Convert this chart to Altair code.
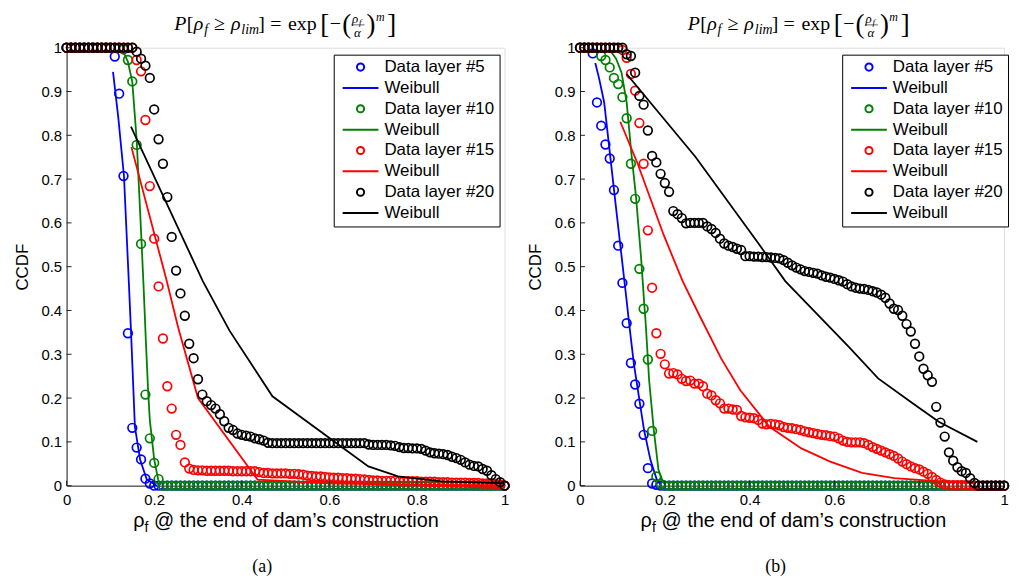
import altair as alt
import pandas as pd

# ---------------- data ----------------
X_GRID = [round(i * 0.01, 2) for i in range(101)]

# panel (a)
A_D5 = [1, 1, 1, 1, 1, 1, 1, 1, 1, 1,
        1, 0.98, 0.895, 0.707, 0.348, 0.132, 0.087, 0.060, 0.016, 0.005,
        0, 0, 0, 0, 0, 0, 0, 0, 0, 0,
        0, 0, 0, 0, 0, 0, 0, 0, 0, 0,
        0, 0, 0, 0, 0, 0, 0, 0, 0, 0,
        0, 0, 0, 0, 0, 0, 0, 0, 0, 0,
        0, 0, 0, 0, 0, 0, 0, 0, 0, 0,
        0, 0, 0, 0, 0, 0, 0, 0, 0, 0,
        0, 0, 0, 0, 0, 0, 0, 0, 0, 0,
        0, 0, 0, 0, 0, 0, 0, 0, 0, 0,
        0]
A_D10 = [1, 1, 1, 1, 1, 1, 1, 1, 1, 1,
         1, 1, 1, 0.996, 0.972, 0.923, 0.778, 0.552, 0.208, 0.108,
         0.052, 0.015, 0, 0, 0, 0, 0, 0, 0, 0,
         0, 0, 0, 0, 0, 0, 0, 0, 0, 0,
         0, 0, 0, 0, 0, 0, 0, 0, 0, 0,
         0, 0, 0, 0, 0, 0, 0, 0, 0, 0,
         0, 0, 0, 0, 0, 0, 0, 0, 0, 0,
         0, 0, 0, 0, 0, 0, 0, 0, 0, 0,
         0, 0, 0, 0, 0, 0, 0, 0, 0, 0,
         0, 0, 0, 0, 0, 0, 0, 0, 0, 0,
         0]
A_D15 = [1, 1, 1, 1, 1, 1, 1, 1, 1, 1,
         1, 1, 1, 1, 1, 1, 0.972, 0.946, 0.835, 0.684,
         0.564, 0.455, 0.336, 0.227, 0.176, 0.116, 0.093, 0.053, 0.039, 0.036,
         0.035, 0.035, 0.034, 0.034, 0.034, 0.034, 0.034, 0.034, 0.033, 0.033,
         0.033, 0.033, 0.033, 0.033, 0.031, 0.029, 0.029, 0.028, 0.028, 0.028,
         0.028, 0.027, 0.027, 0.026, 0.025, 0.023, 0.022, 0.021, 0.021, 0.020,
         0.019, 0.018, 0.018, 0.017, 0.017, 0.016, 0.016, 0.015, 0.014, 0.013,
         0.012, 0.012, 0.011, 0.011, 0.011, 0.011, 0.010, 0.010, 0.010, 0.010,
         0.010, 0.009, 0.009, 0.009, 0.009, 0.008, 0.008, 0.008, 0.007, 0.007,
         0.007, 0.007, 0.006, 0.006, 0.006, 0.005, 0.005, 0.005, 0.004, 0.003,
         0]
A_D20 = [1, 1, 1, 1, 1, 1, 1, 1, 1, 1,
         1, 1, 1, 1, 1, 1, 0.991, 0.975, 0.959, 0.931,
         0.859, 0.791, 0.735, 0.659, 0.568, 0.491, 0.439, 0.388, 0.324, 0.291,
         0.243, 0.208, 0.193, 0.184, 0.176, 0.163, 0.147, 0.132, 0.127, 0.119,
         0.116, 0.114, 0.112, 0.108, 0.106, 0.103, 0.098, 0.097, 0.097, 0.097,
         0.097, 0.097, 0.097, 0.097, 0.097, 0.097, 0.097, 0.097, 0.097, 0.097,
         0.097, 0.097, 0.097, 0.097, 0.097, 0.097, 0.097, 0.097, 0.097, 0.094,
         0.093, 0.093, 0.093, 0.093, 0.092, 0.091, 0.088, 0.086, 0.086, 0.085,
         0.085, 0.084, 0.080, 0.076, 0.074, 0.073, 0.072, 0.070, 0.066, 0.063,
         0.059, 0.053, 0.048, 0.045, 0.044, 0.038, 0.034, 0.024, 0.015, 0.008,
         0]

A_W5_X = [0.106, 0.118, 0.131, 0.142, 0.147, 0.156, 0.168, 0.183, 0.206]
A_W5_Y = [0.945, 0.841, 0.707, 0.467, 0.354, 0.134, 0.059, 0.014, 0.0]
A_W10_X = [0.130, 0.140, 0.150, 0.160, 0.171, 0.176, 0.181, 0.186, 0.190, 0.200, 0.209, 0.215]
A_W10_Y = [0.990, 0.968, 0.922, 0.790, 0.560, 0.450, 0.330, 0.220, 0.150, 0.060, 0.014, 0.002]
A_W15_X = [0.148, 0.228, 0.255, 0.300, 0.436, 0.600, 0.800, 1.000]
A_W15_Y = [0.773, 0.470, 0.360, 0.200, 0.014, 0.005, 0.002, 0.001]
A_W20_X = [0.147, 0.311, 0.372, 0.470, 0.689, 0.757, 0.856, 1.000]
A_W20_Y = [0.820, 0.467, 0.354, 0.204, 0.044, 0.021, 0.010, 0.005]

# panel (b)
B_D5 = [1, 1, 1, 0.987, 0.875, 0.822, 0.779, 0.747, 0.675, 0.548,
        0.463, 0.371, 0.280, 0.231, 0.187, 0.116, 0.040, 0.005, 0.002, 0,
        0, 0, 0, 0, 0, 0, 0, 0, 0, 0,
        0, 0, 0, 0, 0, 0, 0, 0, 0, 0,
        0, 0, 0, 0, 0, 0, 0, 0, 0, 0,
        0, 0, 0, 0, 0, 0, 0, 0, 0, 0,
        0, 0, 0, 0, 0, 0, 0, 0, 0, 0,
        0, 0, 0, 0, 0, 0, 0, 0, 0, 0,
        0, 0, 0, 0, 0, 0, 0, 0, 0, 0,
        0, 0, 0, 0, 0, 0, 0, 0, 0, 0,
        0]
B_D10 = [1, 1, 1, 1, 1, 0.981, 0.972, 0.955, 0.931, 0.917,
         0.887, 0.839, 0.735, 0.655, 0.495, 0.404, 0.288, 0.125, 0.021, 0.004,
         0, 0, 0, 0, 0, 0, 0, 0, 0, 0,
         0, 0, 0, 0, 0, 0, 0, 0, 0, 0,
         0, 0, 0, 0, 0, 0, 0, 0, 0, 0,
         0, 0, 0, 0, 0, 0, 0, 0, 0, 0,
         0, 0, 0, 0, 0, 0, 0, 0, 0, 0,
         0, 0, 0, 0, 0, 0, 0, 0, 0, 0,
         0, 0, 0, 0, 0, 0, 0, 0, 0, 0,
         0, 0, 0, 0, 0, 0, 0, 0, 0, 0,
         0]
B_D15 = [1, 1, 1, 1, 1, 1, 1, 1, 1, 1,
         0.995, 0.977, 0.940, 0.902, 0.828, 0.735, 0.583, 0.452, 0.348, 0.301,
         0.277, 0.256, 0.257, 0.254, 0.244, 0.239, 0.240, 0.233, 0.233, 0.227,
         0.210, 0.206, 0.195, 0.188, 0.176, 0.176, 0.174, 0.173, 0.159, 0.156,
         0.155, 0.154, 0.150, 0.142, 0.140, 0.141, 0.140, 0.138, 0.134, 0.132,
         0.131, 0.129, 0.127, 0.124, 0.122, 0.120, 0.118, 0.116, 0.115, 0.113,
         0.112, 0.108, 0.103, 0.100, 0.099, 0.099, 0.099, 0.097, 0.093, 0.088,
         0.084, 0.080, 0.076, 0.072, 0.068, 0.062, 0.055, 0.049, 0.044, 0.040,
         0.037, 0.032, 0.027, 0.020, 0.013, 0.007, 0.003, 0.001, 0.001, 0.001,
         0.001, 0.001, 0.001, 0, 0, 0, 0, 0, 0, 0,
         0]
B_D20 = [1, 1, 1, 1, 1, 1, 1, 1, 1, 1,
         1, 0.985, 0.981, 0.943, 0.890, 0.870, 0.811, 0.753, 0.738, 0.712,
         0.691, 0.671, 0.627, 0.620, 0.611, 0.599, 0.600, 0.600, 0.600, 0.600,
         0.592, 0.586, 0.577, 0.564, 0.553, 0.548, 0.545, 0.541, 0.538, 0.524,
         0.524, 0.523, 0.523, 0.522, 0.522, 0.521, 0.520, 0.519, 0.515, 0.509,
         0.503, 0.498, 0.494, 0.490, 0.488, 0.486, 0.484, 0.480, 0.477, 0.475,
         0.472, 0.469, 0.466, 0.460, 0.455, 0.452, 0.450, 0.449, 0.447, 0.444,
         0.441, 0.436, 0.429, 0.416, 0.404, 0.401, 0.388, 0.369, 0.352, 0.324,
         0.295, 0.267, 0.252, 0.237, 0.180, 0.144, 0.112, 0.076, 0.057, 0.042,
         0.033, 0.029, 0.017, 0.006, 0, 0, 0, 0, 0, 0,
         0]

B_W5_X = [0.036, 0.045, 0.057, 0.083, 0.110, 0.116, 0.127, 0.151, 0.166, 0.181, 0.190]
B_W5_Y = [0.965, 0.930, 0.875, 0.651, 0.422, 0.369, 0.278, 0.127, 0.059, 0.014, 0.002]
B_W10_X = [0.070, 0.085, 0.098, 0.110, 0.121, 0.132, 0.144, 0.151, 0.155, 0.163, 0.174, 0.185, 0.195, 0.200]
B_W10_Y = [0.995, 0.975, 0.943, 0.875, 0.760, 0.660, 0.520, 0.422, 0.369, 0.240, 0.127, 0.036, 0.010, 0.004]
B_W15_X = [0.095, 0.136, 0.197, 0.242, 0.280, 0.333, 0.378, 0.446, 0.522, 0.590, 0.665, 0.741, 0.816, 0.930]
B_W15_Y = [0.831, 0.735, 0.573, 0.467, 0.392, 0.290, 0.218, 0.135, 0.085, 0.055, 0.029, 0.017, 0.012, 0.005]
B_W20_X = [0.110, 0.272, 0.423, 0.484, 0.635, 0.703, 0.786, 0.846, 0.937]
B_W20_Y = [0.940, 0.751, 0.550, 0.467, 0.316, 0.245, 0.187, 0.146, 0.100]

KEYS = ["Data layer #5", "Weibull #5", "Data layer #10", "Weibull #10",
        "Data layer #15", "Weibull #15", "Data layer #20", "Weibull #20"]
COLORS = ["#0000ff", "#0000ff", "#008000", "#008000",
          "#ff0000", "#ff0000", "#000000", "#000000"]
CIRCLE = "M-0.2,0A0.2,0.2,0,1,1,0.2,0A0.2,0.2,0,1,1,-0.2,0Z"
SHAPES = [CIRCLE, "stroke", CIRCLE, "stroke", CIRCLE, "stroke", CIRCLE, "stroke"]

X_TICKS = [0, 0.2, 0.4, 0.6, 0.8, 1]
Y_TICKS = [0, 0.1, 0.2, 0.3, 0.4, 0.5, 0.6, 0.7, 0.8, 0.9, 1]

H = 441
SANS = "Liberation Sans"
SERIF = "Liberation Serif"


def make_legend(lx):
    return alt.Legend(
        title=None, orient="none", legendX=lx, legendY=7,
        fillColor="white", strokeColor="black", padding=5, cornerRadius=0,
        symbolOffset=3, labelOffset=5, clipHeight=15, rowPadding=3,
        labelFont=SANS, labelFontSize=17, labelColor="black", labelLimit=400,
        symbolSize=1296, symbolStrokeWidth=2,
        labelExpr="indexof(datum.label, 'Weibull') == 0 ? 'Weibull' : datum.label",
    )


def text_piece(text, x, y, size, font=SERIF, style="normal", align="left"):
    return alt.Chart(pd.DataFrame({"t": [text]})).mark_text(
        text=text, font=font, fontSize=size, fontStyle=style, align=align,
        baseline="alphabetic", color="black"
    ).encode(x=alt.value(x), y=alt.value(y))


# formula pieces: (text, size, style, advance, dy)
TITLE_PIECES = [
    ("P", 20, "italic", 12.5, 0), ("[", 20, "normal", 7, 0),
    ("ρ", 20, "italic", 10.5, 0), ("f", 14, "italic", 10, 4),
    ("≥", 20, "normal", 17, 0), ("ρ", 20, "italic", 10.5, 0),
    ("lim", 14, "italic", 17, 4), ("]", 20, "normal", 12, 0),
    ("=", 20, "normal", 18, 0), ("exp", 20, "normal", 32.5, 0),
    ("[", 27, "normal", 9.5, 3), ("−", 20, "normal", 12.5, 0),
    ("(", 27, "normal", 9.5, 3),
]


def title_layers(cx):
    layers = []
    x = cx - 112.0
    base = -18
    for t, s, st, adv, dy in TITLE_PIECES:
        layers.append(text_piece(t, x, base + dy, s, style=st))
        x += adv
    # fraction rho_f / alpha
    layers.append(text_piece("ρ", x + 0.5, base - 7, 13, style="italic"))
    layers.append(text_piece("f", x + 7.5, base - 5, 9, style="italic"))
    layers.append(text_piece("α", x + 2.5, base + 7, 13, style="italic"))
    layers.append(alt.Chart(pd.DataFrame({"t": [0]})).mark_rule(color="black", strokeWidth=0.6).encode(
        x=alt.value(x), x2=alt.value(x + 13), y=alt.value(base - 5), y2=alt.value(base - 5)))
    x += 15
    layers.append(text_piece(")", x, base + 3, 27))
    x += 9.5
    layers.append(text_piece("m", x, base - 9, 12, style="italic"))
    x += 11.5
    layers.append(text_piece("]", x, base + 3, 27))
    return layers


def xtitle_layers(x0):
    base = 483
    return [
        text_piece("ρ", x0, base, 20, font=SANS),
        text_piece("f", x0 + 11.5, base + 5, 14, font=SANS),
        text_piece("@ the end of dam’s construction", x0 + 21, base, 20, font=SANS),
    ]


def panel(series, weibulls, caption, width, legend_x, xtitle_x):
    x_enc = alt.X("x:Q", scale=alt.Scale(domain=[0, 1], nice=False, zero=False),
                  axis=alt.Axis(values=X_TICKS, format="~g", title=None, ticks=False, grid=False,
                                labelFont=SANS, labelFontSize=15, labelColor="black",
                                labelPadding=7, labelFlush=False, domainColor="#222"))
    y_enc = alt.Y("y:Q", scale=alt.Scale(domain=[0, 1], nice=False, zero=False),
                  axis=alt.Axis(values=Y_TICKS, format="~g", title="CCDF", ticks=False, grid=False,
                                labelFont=SANS, labelFontSize=15, labelColor="black",
                                labelPadding=5, labelFlush=False, domainColor="#222",
                                titleFont=SANS, titleFontSize=17, titleFontWeight="normal",
                                titleColor="black", titlePadding=10))
    legend = make_legend(legend_x)
    color = alt.Color("key:N", scale=alt.Scale(domain=KEYS, range=COLORS), legend=legend)
    shape = alt.Shape("key:N", scale=alt.Scale(domain=KEYS, range=SHAPES), legend=legend)

    layers = []
    for i in range(4):
        dkey = KEYS[2 * i]
        wkey = KEYS[2 * i + 1]
        dfp = pd.DataFrame({"x": X_GRID, "y": series[i], "key": dkey})
        layers.append(alt.Chart(dfp).mark_point(filled=False, size=1900, strokeWidth=1.7, opacity=1).encode(
            x=x_enc, y=y_enc, color=color, shape=shape))
        wx, wy = weibulls[i]
        dfl = pd.DataFrame({"x": wx, "y": wy, "key": wkey})
        layers.append(alt.Chart(dfl).mark_line(strokeWidth=1.8).encode(
            x=x_enc, y=y_enc, color=color))

    ytick_df = pd.DataFrame({"v": Y_TICKS})
    layers.append(alt.Chart(ytick_df).mark_rule(color="#222", strokeWidth=1).encode(
        y=alt.Y("v:Q", scale=alt.Scale(domain=[0, 1], nice=False)), x=alt.value(0), x2=alt.value(5)))
    xtick_df = pd.DataFrame({"v": X_TICKS})
    layers.append(alt.Chart(xtick_df).mark_rule(color="#222", strokeWidth=1).encode(
        x=alt.X("v:Q", scale=alt.Scale(domain=[0, 1], nice=False)), y=alt.value(H), y2=alt.value(H - 5)))

    layers += title_layers(220.5)
    layers += xtitle_layers(xtitle_x)
    layers.append(text_piece(caption, 197, 527.5, 18, align="center"))

    return alt.layer(*layers).properties(width=width, height=H)


left = panel([A_D5, A_D10, A_D15, A_D20],
             [(A_W5_X, A_W5_Y), (A_W10_X, A_W10_Y), (A_W15_X, A_W15_Y), (A_W20_X, A_W20_Y)],
             "(a)", 441, 269, 67)
right = panel([B_D5, B_D10, B_D15, B_D20],
              [(B_W5_X, B_W5_Y), (B_W10_X, B_W10_Y), (B_W15_X, B_W15_Y), (B_W20_X, B_W20_Y)],
              "(b)", 427, 264, 61)

chart = alt.hconcat(left, right, spacing=12).resolve_scale(
    color="independent", shape="independent"
).resolve_legend(
    color="independent", shape="independent"
).properties(
    padding={"left": 4, "top": 0, "right": 0, "bottom": 0}
).configure_view(strokeWidth=0).configure(background="white")

chart.save("out.html", embed_options={"renderer": "svg", "actions": False})
